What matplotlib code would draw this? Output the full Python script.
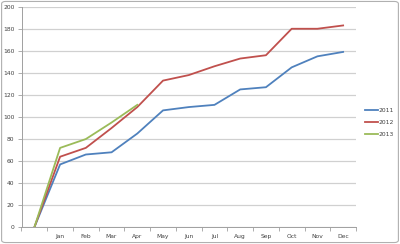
import numpy as np
import matplotlib.pyplot as plt
from matplotlib.patches import FancyBboxPatch

# === DATI ===
months = ["", "Jan", "Feb", "Mar", "Apr", "May", "Jun", "Jul", "Aug", "Sep", "Oct", "Nov", "Dec"]
y2011 = [0, 57, 66, 68, 85, 106, 109, 111, 125, 127, 145, 155, 159]
y2012 = [0, 64, 72, 90, 109, 133, 138, 146, 153, 156, 180, 180, 183]
y2013 = [0, 72, 80, 95, 111]

BLUE = "#4F81BD"
RED = "#C0504D"
GREEN = "#9BBB59"


def main():
    fig = plt.figure(figsize=(4.0, 2.44), dpi=100)
    fig.patch.set_facecolor("white")
    fig.patches.append(FancyBboxPatch((0.004, 0.006), 0.992, 0.988,
                                      boxstyle="round,pad=0,rounding_size=0.01",
                                      transform=fig.transFigure, fill=False,
                                      edgecolor="#b0b0b0", linewidth=0.8))

    ax = fig.add_axes([21.5 / 400, 16.7 / 244, (356 - 21.5) / 400, (227.3 - 6.7) / 244])
    x = np.arange(len(months))

    ax.plot(x, y2011, color=BLUE, lw=1.3, label="2011")
    ax.plot(x, y2012, color=RED, lw=1.3, label="2012")
    ax.plot(x[:len(y2013)], y2013, color=GREEN, lw=1.3, label="2013")

    ax.set_xlim(-0.5, len(months) - 0.5)
    ax.set_ylim(0, 200)
    ax.set_yticks(range(0, 201, 20))
    ax.set_xticks(x)
    ax.set_xticklabels(months)
    ax.set_xticks(np.arange(-0.5, len(months), 1), minor=True)
    ax.tick_params(axis="x", which="major", length=0, labelsize=4.3, pad=4.5)
    ax.tick_params(axis="x", which="minor", length=3, color="#a0a0a0", width=0.6)
    ax.tick_params(axis="y", length=3, color="#a0a0a0", width=0.6, labelsize=4.3, pad=2)
    ax.tick_params(axis="both", which="major", labelcolor="#404040")

    ax.grid(axis="y", color="#d0d0d0", lw=0.9)
    ax.set_axisbelow(True)
    for s in ["top", "right"]:
        ax.spines[s].set_visible(False)
    for s in ["left", "bottom"]:
        ax.spines[s].set_color("#a0a0a0")
        ax.spines[s].set_linewidth(0.7)

    leg = fig.legend(loc="upper left", bbox_to_anchor=(362 / 400, 1 - 105 / 244),
                     frameon=False, fontsize=4.3, handlelength=2.2,
                     handletextpad=0.1, labelspacing=1.1, borderpad=0)
    for t in leg.get_texts():
        t.set_color("#404040")

    fig.savefig("out.png", dpi=100)
    plt.close(fig)


if __name__ == "__main__":
    main()
